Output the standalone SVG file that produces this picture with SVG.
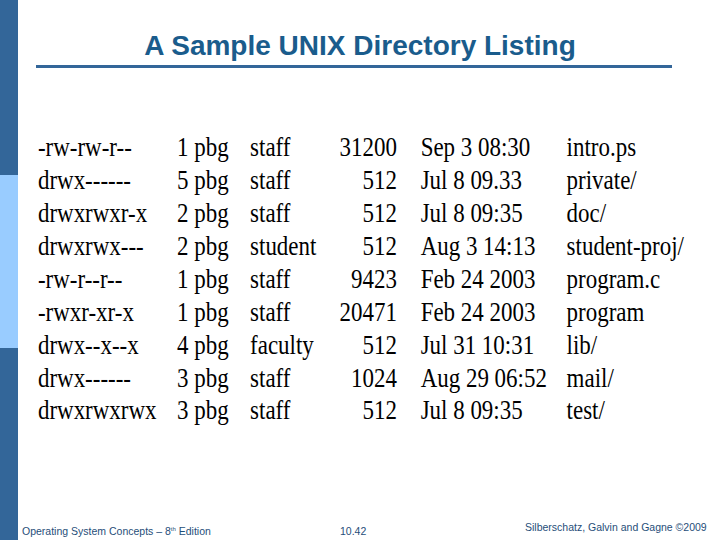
<svg xmlns="http://www.w3.org/2000/svg" width="720" height="540" viewBox="0 0 720 540">
<style>
.t{font-family:"Liberation Serif",serif;font-size:28px;fill:#000}
.r{text-anchor:end}
.f{font-family:"Liberation Sans",sans-serif;font-size:10.5px;fill:#1f4e79}
</style>
<rect width="720" height="540" fill="#fff"/>
<rect x="0" y="0" width="18" height="175" fill="#336699"/>
<rect x="0" y="175" width="18" height="173" fill="#99ccff"/>
<rect x="0" y="348" width="18" height="192" fill="#336699"/>
<text x="360" y="55" text-anchor="middle" font-family="Liberation Sans,sans-serif" font-weight="bold" font-size="28" fill="#1a5c8c">A Sample UNIX Directory Listing</text>
<rect x="36" y="65" width="636" height="3" fill="#336699"/>
<g id="listing" transform="scale(0.82,1)">
<g class="t">
<text x="46.3" y="156">-rw-rw-r--</text><text x="46.3" y="189">drwx------</text><text x="46.3" y="222">drwxrwxr-x</text><text x="46.3" y="255">drwxrwx---</text><text x="46.3" y="288">-rw-r--r--</text><text x="46.3" y="321">-rwxr-xr-x</text><text x="46.3" y="354">drwx--x--x</text><text x="46.3" y="387">drwx------</text><text x="46.3" y="419">drwxrwxrwx</text>
<text x="216" y="156">1 pbg</text><text x="216" y="189">5 pbg</text><text x="216" y="222">2 pbg</text><text x="216" y="255">2 pbg</text><text x="216" y="288">1 pbg</text><text x="216" y="321">1 pbg</text><text x="216" y="354">4 pbg</text><text x="216" y="387">3 pbg</text><text x="216" y="419">3 pbg</text>
<text x="305" y="156">staff</text><text x="305" y="189">staff</text><text x="305" y="222">staff</text><text x="305" y="255">student</text><text x="305" y="288">staff</text><text x="305" y="321">staff</text><text x="305" y="354">faculty</text><text x="305" y="387">staff</text><text x="305" y="419">staff</text>
<g class="r"><text x="484" y="156">31200</text><text x="484" y="189">512</text><text x="484" y="222">512</text><text x="484" y="255">512</text><text x="484" y="288">9423</text><text x="484" y="321">20471</text><text x="484" y="354">512</text><text x="484" y="387">1024</text><text x="484" y="419">512</text></g>
<text x="513" y="156">Sep 3 08:30</text><text x="513" y="189">Jul 8 09.33</text><text x="513" y="222">Jul 8 09:35</text><text x="513" y="255">Aug 3 14:13</text><text x="513" y="288">Feb 24 2003</text><text x="513" y="321">Feb 24 2003</text><text x="513" y="354">Jul 31 10:31</text><text x="513" y="387">Aug 29 06:52</text><text x="513" y="419">Jul 8 09:35</text>
<text x="691" y="156">intro.ps</text><text x="691" y="189">private/</text><text x="691" y="222">doc/</text><text x="691" y="255">student-proj/</text><text x="691" y="288">program.c</text><text x="691" y="321">program</text><text x="691" y="354">lib/</text><text x="691" y="387">mail/</text><text x="691" y="419">test/</text>
</g>
</g>
<text class="f" x="22" y="535">Operating System Concepts – 8<tspan font-size="6" dy="-4">th</tspan><tspan dy="4"> Edition</tspan></text>
<text class="f" x="340" y="535">10.42</text>
<text class="f" x="525" y="531">Silberschatz, Galvin and Gagne ©2009</text>
</svg>
